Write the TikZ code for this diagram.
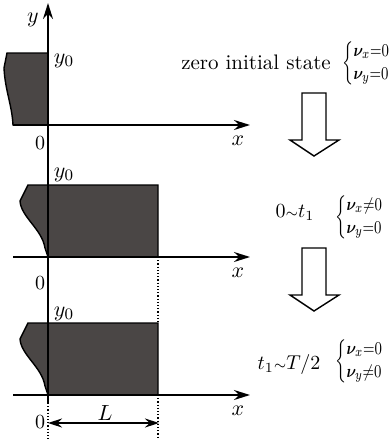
\documentclass[tikz,border=0pt]{standalone}
\usepackage{amsmath,bm}
\usetikzlibrary{arrows.meta}
\definecolor{slab}{HTML}{4A4645}
\tikzset{
  axis/.style={line width=1pt,-{Stealth[length=8pt,width=5pt]}},
  slabfill/.style={fill=slab,draw=black,line width=0.7pt},
  hollow/.style={draw=black,line width=0.7pt,fill=white},
  guide/.style={densely dotted,line width=0.6pt},
  lbl/.style={font=\fontsize{11}{13}\selectfont},
}
\newcommand{\velo}[2]{\scalebox{0.8}[1]{\fontsize{9.5}{11}\selectfont$\nulldelimiterspace=0pt\left\{\renewcommand{\arraystretch}{1.05}\begin{array}{@{}l@{}}\bm{\nu}_x{#1}0\\ \bm{\nu}_y{#2}0\end{array}\right.$}}

\begin{document}
\begin{tikzpicture}[x=0.5pt,y=-0.5pt]
  \useasboundingbox (0,0) rectangle (390,439);

  % Initial slab, left of the y axis
  \filldraw[slabfill] (48,53) -- (7,53) -- (4,68) .. controls (5,90) and (12,105) .. (13,125) -- (48,125) -- cycle;

  % Slab during 0~t_1 and t_1~T/2
  \foreach \oy in {257,395} {
    \filldraw[slabfill] (158,{\oy-72}) -- (28,{\oy-72}) -- (20,{\oy-56}) .. controls (21,{\oy-40}) and (42,{\oy-28}) .. (45,{\oy-9}) -- (48,\oy) -- (158,\oy) -- cycle;
  }

  % y axis
  \coordinate (ybot) at (48,403);
  \coordinate (ytop) at (48,3);
  \draw[axis] (ybot) -- (ytop);
  \node[lbl] (ylab) at (33,20) {$y$};

  % x axes
  \foreach \oy/\n in {125/a,257/b,395/c} {
    \coordinate (xl\n) at (13,\oy);
    \coordinate (xr\n) at (250,\oy);
    \draw[axis] (xl\n) -- (xr\n);
    \node[lbl] (xlab\n) at (238,{\oy+16}) {$x$};
  }

  % Origin and y_0 labels
  \node (oa) at (40,143) {0};
  \node (ob) at (40,283) {0};
  \node (oc) at (40,422) {0};
  \node[lbl] (ya) at (64,61) {$y_0$};
  \node[lbl] (yb) at (64,175) {$y_0$};
  \node[lbl] (yc) at (64,314) {$y_0$};

  % Dotted guides
  \draw[guide] (158,257) -- (158,323);
  \draw[guide] (158,395) -- (158,439);
  \draw[guide] (ybot) -- (48,439);

  % Length L
  \coordinate (la) at (48,423);
  \coordinate (lb) at (159,423);
  \draw[line width=0.7pt,{Stealth[length=7pt,width=4.5pt]}-{Stealth[length=7pt,width=4.5pt]}] (la) -- (lb);
  \node[lbl] (llab) at (105,413) {$L$};

  % Hollow arrows between the states
  \foreach \ty in {93,248} {
    \draw[hollow] (302,\ty) -- (326,\ty) -- (326,{\ty+47}) -- (339,{\ty+47}) -- (314,{\ty+63}) -- (290,{\ty+47}) -- (302,{\ty+47}) -- cycle;
  }

  % States and velocities
  \node[font=\fontsize{10.5}{12}\selectfont] (sa) at (256,62) {zero initial state};
  \node[anchor=west,inner sep=0pt] (va) at (342,63) {\velo{=}{=}};
  \node (sb) at (295,213) {$0{\scriptstyle\sim}t_1$};
  \node[anchor=west,inner sep=0pt] (vb) at (335,217) {\velo{\neq}{=}};
  \node (sc) at (289,364) {$t_1{\scriptstyle\sim}T/2$};
  \node[anchor=west,inner sep=0pt] (vc) at (335,361) {\velo{=}{\neq}};
\end{tikzpicture}
\end{document}
